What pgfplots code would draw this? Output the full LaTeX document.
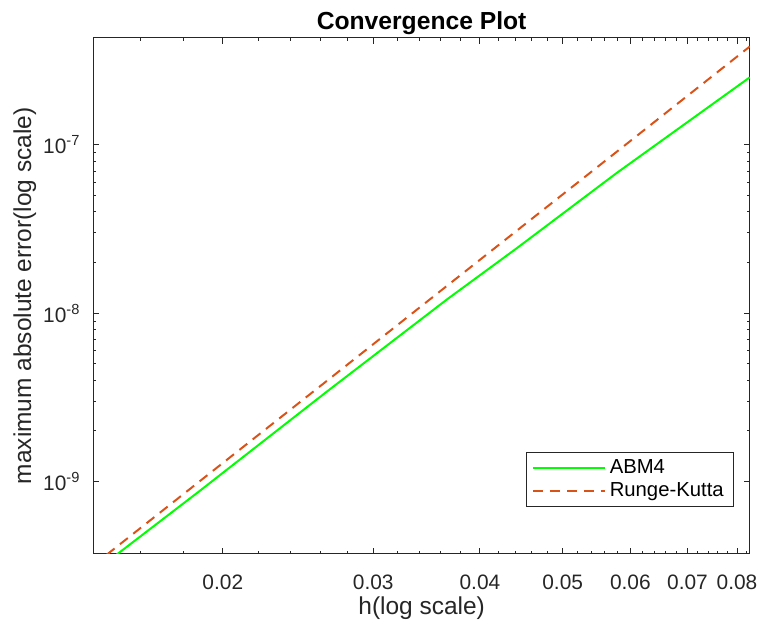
\documentclass[border=0pt]{standalone}
\usepackage{pgfplots}
\pgfplotsset{compat=1.18}
\usepackage{fontspec}
\setmainfont{Liberation Sans}

\definecolor{mlgray}{rgb}{0.15,0.15,0.15}
\definecolor{abmgreen}{rgb}{0,1,0}
\definecolor{rkorange}{rgb}{0.85,0.325,0.098}

\begin{document}
\begin{tikzpicture}
\begin{axis}[
    name=ax,
    scale only axis,
    width=330pt, height=259.5pt,
    xmode=log, ymode=log,
    xmin=0.01411, xmax=0.0828,
    ymin=3.72e-10, ymax=4.33e-7,
    axis line style={mlgray, line width=0.5pt},
    every tick/.style={mlgray, line width=0.5pt},
    major tick length=3pt, minor tick length=1.5pt,
    xtick={0.02,0.03,0.04,0.05,0.06,0.07,0.08},
    xticklabels={0.02,0.03,0.04,0.05,0.06,0.07,0.08},
    minor xtick={0.016,0.018,0.022,0.024,0.026,0.028,0.032,0.034,0.036,0.038,
        0.042,0.044,0.046,0.048,0.052,0.054,0.056,0.058,0.062,0.064,0.066,0.068,
        0.072,0.074,0.076,0.078,0.082},
    ytick={1e-9,1e-8,1e-7},
    yticklabels={10\textsuperscript{-9},10\textsuperscript{-8},10\textsuperscript{-7}},
    tick label style={font=\fontsize{10.5}{12}\selectfont, text=mlgray},
    xticklabel style={yshift=-7pt},
    yticklabel style={xshift=-3pt},
    xlabel={h(log scale)},
    ylabel={maximum absolute error(log scale)},
    label style={font=\fontsize{12.3}{14}\selectfont, text=mlgray},
    xlabel style={at={(axis description cs:0.5,-0.106)}, anchor=center},
    ylabel style={at={(axis description cs:-0.1045,0.5)}, anchor=center},
    title={Convergence Plot},
    title style={font=\bfseries\fontsize{12.4}{14}\selectfont, inner sep=0pt,
        at={(axis description cs:0.5,1)}, anchor=base, yshift=-1.7pt},
    legend style={at={(0.9760,0.0919)}, anchor=south east, draw=mlgray,
        font=\fontsize{10.2}{13}\selectfont, cells={anchor=west},
        inner xsep=3pt, inner ysep=1.5pt, row sep=-1pt},
    legend image code/.code={\draw[#1] (2pt,0pt) -- (38pt,0pt);},
]
\addplot[abmgreen, line width=1pt] coordinates {
    (0.01411, 2.89e-10) (0.01875, 8.73e-10) (0.02657, 3.476e-9)
    (0.03665, 1.215e-8) (0.04421, 2.443e-8) (0.05782, 6.81e-8)
    (0.0828, 2.522e-7)
};
\addlegendentry{ABM4}
\addplot[rkorange, line width=1pt, dash pattern=on 5pt off 3.5pt] coordinates {
    (0.01411, 3.19e-10) (0.01875, 9.96e-10) (0.02657, 4.025e-9)
    (0.03665, 1.463e-8) (0.04421, 3.105e-8) (0.05782, 9.10e-8)
    (0.0828, 3.844e-7)
};
\addlegendentry{Runge-Kutta}
\end{axis}
\path ([shift={(-47pt,-34pt)}]ax.south west) rectangle ([shift={(5pt,19pt)}]ax.north east);
\end{tikzpicture}
\end{document}
